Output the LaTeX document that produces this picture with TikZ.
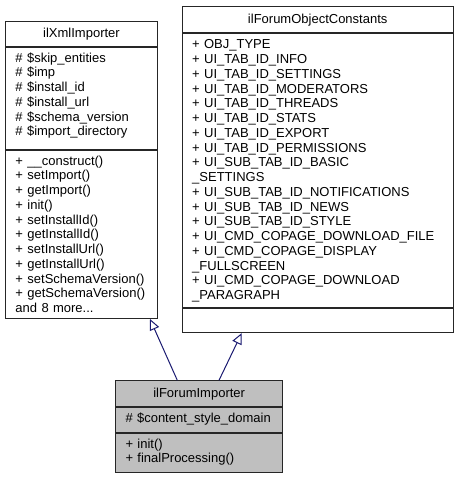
\documentclass[tikz,border=0pt]{standalone}
\usepackage{fontspec}
\setmainfont{Liberation Sans}
\usetikzlibrary{arrows.meta}
\definecolor{edgeblue}{HTML}{191970}
\definecolor{boxgray}{HTML}{BFBFBF}
% member text: no hyphenation inside the boxes
\newcommand\umlfont{\fontsize{13}{14.75}\selectfont\lefthyphenmin=64\relax\hyphenpenalty=10000\relax}
\begin{document}
\begin{tikzpicture}[x=1pt,y=-1pt,
  compart/.style={draw=black!85,line width=1pt,anchor=north west,inner xsep=10pt,inner ysep=0pt,font=\umlfont},
  classname/.style={compart,align=center},
  members/.style={compart,align=left,text height=15pt,text depth=#1},
  inherit/.style={draw=edgeblue,line width=1pt,-{Triangle[open,length=11pt,width=10pt]}}]
\useasboundingbox (0,0) rectangle (458,477);
% ilXmlImporter (base class, left)
\node[classname,minimum width=152pt,minimum height=24.7pt] (xmlname) at (5,21) {ilXmlImporter};
\node[members=86.8pt,text width=132pt] (xmlattr) at (xmlname.south west)
  {\#~\$skip\_entities\\\#~\$imp\\\#~\$install\_id\\\#~\$install\_url\\\#~\$schema\_version\\\#~\$import\_directory};
\node[members=153.5pt,text width=132pt] (xmlmeth) at (xmlattr.south west)
  {+~\_\_construct()\\+~setImport()\\+~getImport()\\+~init()\\+~setInstallId()\\+~getInstallId()\\+~setInstallUrl()\\+~getInstallUrl()\\+~setSchemaVersion()\\+~getSchemaVersion()\\and 8 more...};
% ilForumObjectConstants (base class, right)
\node[classname,minimum width=271pt,minimum height=26.3pt] (constname) at (181.7,6) {ilForumObjectConstants};
\node[members=258.4pt,text width=251pt] (constattr) at (constname.south west)
  {+~OBJ\_TYPE\\+~UI\_TAB\_ID\_INFO\\+~UI\_TAB\_ID\_SETTINGS\\+~UI\_TAB\_ID\_MODERATORS\\+~UI\_TAB\_ID\_THREADS\\+~UI\_TAB\_ID\_STATS\\+~UI\_TAB\_ID\_EXPORT\\+~UI\_TAB\_ID\_PERMISSIONS\\+~UI\_SUB\_TAB\_ID\_BASIC\\\_SETTINGS\\+~UI\_SUB\_TAB\_ID\_NOTIFICATIONS\\+~UI\_SUB\_TAB\_ID\_NEWS\\+~UI\_SUB\_TAB\_ID\_STYLE\\+~UI\_CMD\_COPAGE\_DOWNLOAD\_FILE\\+~UI\_CMD\_COPAGE\_DISPLAY\\\_FULLSCREEN\\+~UI\_CMD\_COPAGE\_DOWNLOAD\\\_PARAGRAPH};
\node[members=9.4pt,text width=251pt] (constmeth) at (constattr.south west) {};
% ilForumImporter (derived class)
\node[classname,fill=boxgray,minimum width=167.3pt,minimum height=26pt] (fimpname) at (115,380.3) {ilForumImporter};
\node[members=9.4pt,fill=boxgray,text width=147.3pt] (fimpattr) at (fimpname.south west) {\#~\$content\_style\_domain};
\node[members=24.7pt,fill=boxgray,text width=147.3pt] (fimpmeth) at (fimpattr.south west) {+~init()\\+~finalProcessing()};
% inheritance
\draw[inherit] ([xshift=62.3pt]fimpname.north west) -- ([xshift=145pt]xmlmeth.south west);
\draw[inherit] ([xshift=104pt]fimpname.north west) -- ([xshift=60pt]constmeth.south west);
\end{tikzpicture}
\end{document}
